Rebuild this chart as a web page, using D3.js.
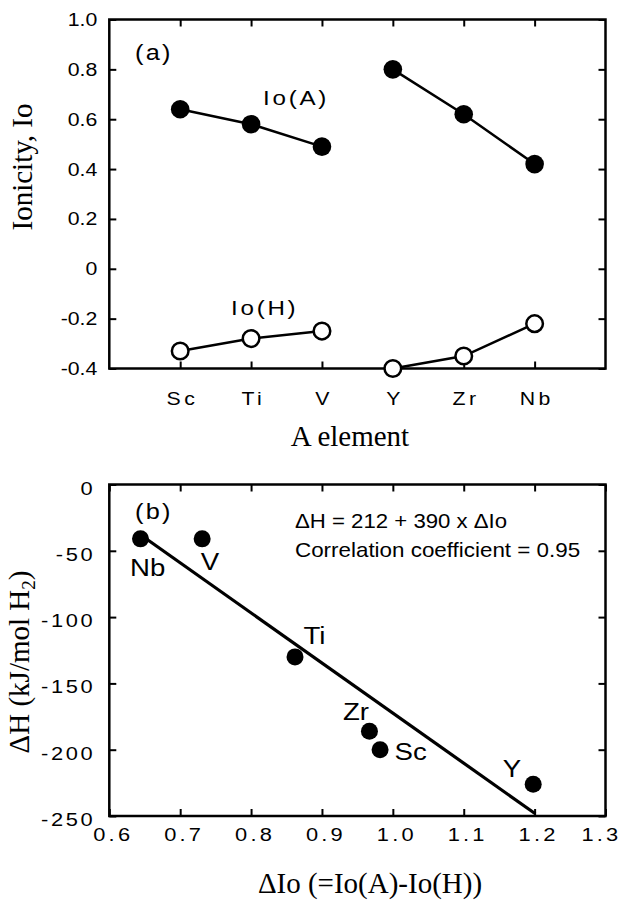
<!DOCTYPE html>
<html>
<head>
<meta charset="utf-8">
<script src="https://cdn.jsdelivr.net/npm/d3@7"></script>
<style>
  body { margin: 0; background: #fff; }
  text { fill: #000; }
  .sans { font-family: "Liberation Sans", Arial, sans-serif; }
  .serif { font-family: "Liberation Serif", "Times New Roman", serif; }
</style>
</head>
<body>
<div id="chart"></div>
<script>
// ---- data (a) ----
var categories = ["Sc", "Ti", "V", "Y", "Zr", "Nb"];
var periods = [["Sc", "Ti", "V"], ["Y", "Zr", "Nb"]];
var ioA = [0.64, 0.58, 0.49, 0.80, 0.62, 0.42];
var ioH = [-0.33, -0.28, -0.25, -0.40, -0.35, -0.22];
var yTicksA = [-0.4, -0.2, 0, 0.2, 0.4, 0.6, 0.8, 1.0];

// ---- data (b) ----
var elements = ["Nb", "V", "Ti", "Zr", "Sc", "Y"];
var deltaIo = [0.644, 0.731, 0.862, 0.967, 0.982, 1.198];
var deltaH = [-41, -41, -130, -186, -200, -226];
var fitX = [0.653, 1.201];
var fitY = [-41.3, -248.3];
var xTicksB = [0.6, 0.7, 0.8, 0.9, 1.0, 1.1, 1.2, 1.3];
var yTicksB = [0, -50, -100, -150, -200, -250];

var W = 620, H = 907;
var left = 109.3, right = 605.5;
var SX = 1.15; // the original lettering is a bit wide
var INK = "#000";

var svg = d3.select("#chart").append("svg")
    .attr("width", W)
    .attr("height", H);

svg.append("rect").attr("width", W).attr("height", H).attr("fill", "#fff");

// scales
var xA = d3.scalePoint().domain(categories).range([left, right]).padding(1);
var yA = d3.scaleLinear().domain([-0.4, 1.0]).range([368.5, 19.5]);
var xB = d3.scaleLinear().domain([0.6, 1.3]).range([left, right]);
var yB = d3.scaleLinear().domain([-250, 0]).range([816, 484.5]);

// widen sans text horizontally around its own anchor x
function stretch(sel, sx) {
  sel.each(function() {
    var t = d3.select(this);
    var x = +t.attr("x") || 0;
    t.attr("x", x / sx).attr("transform", "scale(" + sx + ",1)");
  });
}

function hyphen(s) { return s.replace("\u2212", "-"); }

function styleAxis(g, size, ls) {
  g.select(".domain").remove();
  g.selectAll(".tick line").attr("stroke", INK).attr("stroke-width", 2);
  g.selectAll(".tick text")
    .attr("class", "sans")
    .attr("fill", INK)
    .style("font-size", size + "px")
    .style("letter-spacing", ls + "px");
}

// ================= panel (a) =================
var pa = svg.append("g");

pa.append("g").attr("transform", "translate(" + left + ",0)")
  .call(d3.axisLeft(yA).tickValues(yTicksA).tickSize(-7).tickPadding(12)
    .tickFormat(function(d) { return d === 0 ? "0" : hyphen(d3.format(".1f")(d)); }))
  .call(styleAxis, 18.5, 0)
  .selectAll(".tick text").call(stretch, SX);

pa.append("g").attr("transform", "translate(" + right + ",0)")
  .call(d3.axisRight(yA).tickValues(yTicksA).tickSize(-7).tickFormat(""))
  .call(styleAxis, 18, 0);

pa.append("g").attr("transform", "translate(0," + yA(-0.4) + ")")
  .call(d3.axisBottom(xA).tickSize(-7).tickPadding(23.5))
  .call(styleAxis, 18.5, 3)
  .selectAll(".tick text").attr("dx", 1.5).call(stretch, SX);

pa.append("g").attr("transform", "translate(0," + yA(1.0) + ")")
  .call(d3.axisTop(xA).tickSize(-7).tickFormat(""))
  .call(styleAxis, 18, 0);

pa.append("rect")
  .attr("x", left).attr("y", yA(1.0))
  .attr("width", right - left).attr("height", yA(-0.4) - yA(1.0))
  .attr("fill", "none").attr("stroke", INK).attr("stroke-width", 2.5);

var line = d3.line()
  .x(function(d) { return xA(d.cat); })
  .y(function(d) { return yA(d.v); });

[ioA, ioH].forEach(function(vals, si) {
  var pts = categories.map(function(c, i) { return {cat: c, v: vals[i]}; });
  periods.forEach(function(p) {
    var seg = pts.filter(function(d) { return p.indexOf(d.cat) >= 0; });
    pa.append("path").datum(seg)
      .attr("d", line)
      .attr("fill", "none").attr("stroke", INK).attr("stroke-width", 2.5);
  });
  pa.selectAll(".pt" + si).data(pts).enter().append("circle")
    .attr("cx", function(d) { return xA(d.cat); })
    .attr("cy", function(d) { return yA(d.v); })
    .attr("r", si === 0 ? 9.3 : 8.3)
    .attr("fill", si === 0 ? INK : "#fff")
    .attr("stroke", INK)
    .attr("stroke-width", si === 0 ? 0 : 2.5);
});

pa.append("text").attr("class", "sans")
  .attr("x", 135).attr("y", 60)
  .style("font-size", "22px").style("letter-spacing", "2px")
  .text("(a)").call(stretch, SX);

pa.append("text").attr("class", "sans")
  .attr("x", 263).attr("y", 105)
  .style("font-size", "21px").style("letter-spacing", "2.4px")
  .text("Io(A)").call(stretch, SX);

pa.append("text").attr("class", "sans")
  .attr("x", 231).attr("y", 315)
  .style("font-size", "21px").style("letter-spacing", "2.4px")
  .text("Io(H)").call(stretch, SX);

pa.append("text").attr("class", "serif")
  .attr("text-anchor", "middle")
  .attr("transform", "translate(31.5,167) rotate(-90)")
  .style("font-size", "29px")
  .text("Ionicity, Io");

pa.append("text").attr("class", "serif")
  .attr("text-anchor", "middle")
  .attr("x", 350).attr("y", 445.5)
  .style("font-size", "29px")
  .text("A element");

// ================= panel (b) =================
var pb = svg.append("g");

pb.append("g").attr("transform", "translate(" + left + ",0)")
  .call(d3.axisLeft(yB).tickValues(yTicksB).tickSize(-7).tickPadding(14)
    .tickFormat(function(d) { return String(d); }))
  .call(styleAxis, 19, 2.3)
  .selectAll(".tick text").attr("dy", "0.5em").call(stretch, SX);

pb.append("g").attr("transform", "translate(" + right + ",0)")
  .call(d3.axisRight(yB).tickValues(yTicksB).tickSize(-7).tickFormat(""))
  .call(styleAxis, 19, 0);

var xaxB = pb.append("g").attr("transform", "translate(0," + yB(-250) + ")")
  .call(d3.axisBottom(xB).tickValues(xTicksB).tickSize(-7).tickPadding(11.5)
    .tickFormat(d3.format(".1f")))
  .call(styleAxis, 19, 2.8);
xaxB.selectAll(".tick text")
  .attr("dx", function(d) { return d > 1.25 ? -4 : 3; })
  .call(stretch, SX);

pb.append("g").attr("transform", "translate(0," + yB(0) + ")")
  .call(d3.axisTop(xB).tickValues(xTicksB).tickSize(-7).tickFormat(""))
  .call(styleAxis, 19, 0);

pb.append("rect")
  .attr("x", left).attr("y", yB(0))
  .attr("width", right - left).attr("height", yB(-250) - yB(0))
  .attr("fill", "none").attr("stroke", INK).attr("stroke-width", 2.5);

pb.append("line")
  .attr("x1", xB(fitX[0])).attr("y1", yB(fitY[0]))
  .attr("x2", xB(fitX[1])).attr("y2", yB(fitY[1]))
  .attr("stroke", INK).attr("stroke-width", 3.2);

var ptsB = elements.map(function(e, i) { return {el: e, x: deltaIo[i], y: deltaH[i]}; });

pb.selectAll(".ptb").data(ptsB).enter().append("circle")
  .attr("cx", function(d) { return xB(d.x); })
  .attr("cy", function(d) { return yB(d.y); })
  .attr("r", 8.5)
  .attr("fill", INK);

// label offsets from each point (px)
var labelOffset = {
  Nb: [-10.5, 37], V: [-1.5, 31.5], Ti: [8.5, -12.5],
  Zr: [-26.5, -11], Sc: [14.5, 10], Y: [-30.5, -7]
};

pb.selectAll(".lab").data(ptsB).enter().append("text")
  .attr("class", "sans")
  .attr("x", function(d) { return xB(d.x) + labelOffset[d.el][0]; })
  .attr("y", function(d) { return yB(d.y) + labelOffset[d.el][1]; })
  .style("font-size", "24px")
  .text(function(d) { return d.el; })
  .call(stretch, SX);

pb.append("text").attr("class", "sans")
  .attr("x", 135).attr("y", 519)
  .style("font-size", "22px").style("letter-spacing", "2px")
  .text("(b)").call(stretch, SX);

pb.append("text").attr("class", "sans")
  .attr("x", 295).attr("y", 528.5)
  .style("font-size", "20px")
  .text("\u0394H = 212 + 390 x \u0394Io").call(stretch, 1.11);

pb.append("text").attr("class", "sans")
  .attr("x", 295).attr("y", 557)
  .style("font-size", "20px")
  .text("Correlation coefficient = 0.95").call(stretch, 1.12);

var yt = pb.append("text").attr("class", "serif")
  .attr("text-anchor", "middle")
  .attr("transform", "translate(28.5,662) rotate(-90)")
  .style("font-size", "29px");
yt.append("tspan").text("\u0394H (kJ/mol H");
yt.append("tspan").attr("dy", 6).style("font-size", "19px").text("2");
yt.append("tspan").attr("dy", -6).text(")");

pb.append("text").attr("class", "serif")
  .attr("text-anchor", "middle")
  .attr("x", 370).attr("y", 893)
  .style("font-size", "29px")
  .text("\u0394Io (=Io(A)-Io(H))");
</script>
</body>
</html>
